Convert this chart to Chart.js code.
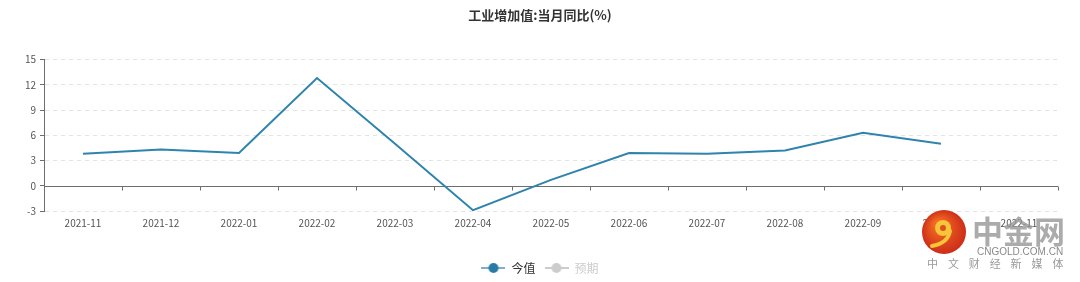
<!DOCTYPE html>
<html>
<head>
<meta charset="utf-8">
<script src="https://cdn.jsdelivr.net/npm/chart.js@4.4.0/dist/chart.umd.min.js"></script>
<style>
    html, body { margin: 0; padding: 0; background: #fff; }
    #wrap { width: 1080px; height: 282px; }
</style>
</head>
<body>
<div id="wrap"><canvas id="chart"></canvas></div>
<script>
// 数据
const months = ['2021-11', '2021-12', '2022-01', '2022-02', '2022-03', '2022-04',
    '2022-05', '2022-06', '2022-07', '2022-08', '2022-09', '2022-10', '2022-11'];
const actualValues = [3.8, 4.3, 3.9, 12.8, 5.0, -2.9, 0.7, 3.9, 3.8, 4.2, 6.3, 5.0, null];
const forecastValues = [null, null, null, null, null, null, null, null, null, null, null, null, null];
const yMin = -3;
const yMax = 15;
const yStep = 3;

const LABEL_FONT = '"Noto Sans CJK SC", "Noto Sans", sans-serif';

function legendIcon(color, lineAlpha) {
    const c = document.createElement('canvas');
    c.width = 24;
    c.height = 12;
    const ctx = c.getContext('2d');
    ctx.globalAlpha = lineAlpha;
    ctx.strokeStyle = color;
    ctx.lineWidth = 2;
    ctx.beginPath();
    ctx.moveTo(0, 6);
    ctx.lineTo(24, 6);
    ctx.stroke();
    ctx.globalAlpha = 1;
    ctx.fillStyle = color;
    ctx.beginPath();
    ctx.arc(12, 6, 5, 0, Math.PI * 2);
    ctx.fill();
    return c;
}

// eje X sobre el cero con marcas entre categorías
const zeroAxisPlugin = {
    id: 'zeroAxis',
    beforeDatasetsDraw(chart) {
        const { ctx, chartArea, scales } = chart;
        const y0 = Math.round(scales.y.getPixelForValue(0)) + 0.5;
        const w = (chartArea.right - chartArea.left) / months.length;
        ctx.save();
        ctx.strokeStyle = '#6e6e6e';
        ctx.lineWidth = 1;
        ctx.beginPath();
        ctx.moveTo(chartArea.left, y0);
        ctx.lineTo(chartArea.right, y0);
        for (let i = 1; i <= months.length; i++) {
            const x = Math.round(chartArea.left + i * w) + 0.5;
            ctx.moveTo(x, y0);
            ctx.lineTo(x, y0 + 4);
        }
        ctx.stroke();
        ctx.restore();
    }
};

const watermarkPlugin = {
    id: 'watermark',
    afterDraw(chart) {
        const ctx = chart.ctx;
        ctx.save();
        const cx = 944, cy = 232;
        const g = ctx.createRadialGradient(cx - 6, cy - 8, 4, cx, cy, 23);
        g.addColorStop(0, '#f26a22');
        g.addColorStop(1, '#cc2a18');
        ctx.fillStyle = g;
        ctx.beginPath();
        ctx.arc(cx, cy, 22, 0, Math.PI * 2);
        ctx.fill();
        // espiral amarilla
        ctx.fillStyle = '#f8c43a';
        ctx.beginPath();
        ctx.arc(cx - 1, cy - 4, 8, 0, Math.PI * 2);
        ctx.fill();
        ctx.strokeStyle = '#f8c43a';
        ctx.lineWidth = 4;
        ctx.lineCap = 'round';
        ctx.beginPath();
        ctx.moveTo(cx + 6, cy - 1);
        ctx.quadraticCurveTo(cx + 4, cy + 11, cx - 12, cy + 14);
        ctx.stroke();
        ctx.fillStyle = '#e0501e';
        ctx.beginPath();
        ctx.arc(cx - 1, cy - 4, 3, 0, Math.PI * 2);
        ctx.fill();

        ctx.fillStyle = 'rgba(150,150,150,0.8)';
        ctx.textBaseline = 'alphabetic';
        ctx.font = 'bold 31px ' + LABEL_FONT;
        ctx.fillText('中金网', 972, 243);
        ctx.fillStyle = '#8a8a8a';
        ctx.font = '10px "Liberation Sans", sans-serif';
        ctx.fillText('CNGOLD.COM.CN', 977, 255);
        ctx.fillStyle = '#9a9a9a';
        ctx.font = '11px ' + LABEL_FONT;
        const chars = '中文财经新媒体'.split('');
        chars.forEach((ch, i) => {
            ctx.fillText(ch, 927 + i * 20.9, 268);
        });
        ctx.restore();
    }
};

const ctx = document.getElementById('chart');
new Chart(ctx, {
    type: 'line',
    data: {
        labels: months,
        datasets: [
            {
                label: '今值',
                data: actualValues,
                borderColor: '#2f84ad',
                backgroundColor: '#2a7aa8',
                borderWidth: 2,
                pointRadius: 0,
                tension: 0,
                fill: false
            },
            {
                label: '预期',
                data: forecastValues,
                borderColor: '#ccc',
                backgroundColor: '#ccc',
                hidden: true,
                pointRadius: 0
            }
        ]
    },
    options: {
        responsive: true,
        maintainAspectRatio: false,
        animation: false,
        devicePixelRatio: 1,
        layout: { padding: { left: 0, right: 0, top: 0, bottom: -2 } },
        plugins: {
            title: {
                display: true,
                text: '工业增加值:当月同比(%)',
                color: '#333',
                font: { family: LABEL_FONT, size: 13, weight: 'bold' },
                padding: { top: 7, bottom: 37 }
            },
            legend: {
                position: 'bottom',
                onClick: null,
                labels: {
                    usePointStyle: true,
                    pointStyleWidth: 24,
                    padding: 9,
                    font: { family: LABEL_FONT, size: 12 },
                    generateLabels: chart => chart.data.datasets.map((ds, i) => ({
                        text: ds.label,
                        pointStyle: i === 0 ? legendIcon('#2a7aa8', 0.6) : legendIcon('#cccccc', 1),
                        fontColor: i === 0 ? '#333' : '#ccc',
                        fillStyle: 'transparent',
                        strokeStyle: 'transparent',
                        lineWidth: 0,
                        hidden: false,
                        datasetIndex: i
                    }))
                }
            },
            tooltip: { enabled: false }
        },
        scales: {
            x: {
                offset: true,
                grid: { display: false, drawTicks: false },
                border: { display: false },
                ticks: {
                    color: '#555',
                    padding: 6,
                    maxRotation: 0,
                    autoSkip: false,
                    font: { family: LABEL_FONT, size: 10 }
                },
                afterFit: s => { s.height = 42; }
            },
            y: {
                min: yMin,
                max: yMax,
                ticks: {
                    stepSize: yStep,
                    color: '#555',
                    padding: 4,
                    font: { family: LABEL_FONT, size: 10 }
                },
                grid: {
                    color: c => (c.tick && c.tick.value === 0 ? 'rgba(0,0,0,0)' : '#e3e3e3'),
                    tickLength: 4,
                    tickColor: '#6e6e6e'
                },
                border: { display: true, color: '#6e6e6e', dash: [4, 4] },
                afterFit: s => { s.width = 44; }
            },
            yRight: {
                position: 'right',
                display: true,
                grid: { display: false },
                border: { display: false },
                ticks: { display: false },
                afterFit: s => { s.width = 22; }
            }
        }
    },
    plugins: [zeroAxisPlugin, watermarkPlugin]
});
</script>
</body>
</html>
